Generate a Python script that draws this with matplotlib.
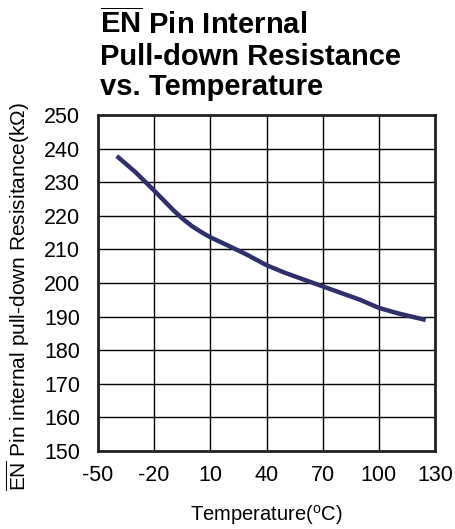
import matplotlib
matplotlib.use("Agg")
from matplotlib import pyplot as plt

# data
temps = [-40, -30, -20, -10, -5, 0, 5, 10, 20, 30, 40, 50, 60, 70, 80, 90, 100, 110, 125]
resist = [237.8, 233.0, 227.5, 221.8, 219.2, 217.0, 215.2, 213.6, 211.0, 208.3, 205.3, 203.0, 201.0, 199.0, 197.0, 195.0, 192.6, 191.0, 189.0]
xticks = [-50, -20, 10, 40, 70, 100, 130]
yticks = [150, 160, 170, 180, 190, 200, 210, 220, 230, 240, 250]

plt.rcParams['font.family'] = 'Liberation Sans'
plt.rcParams['mathtext.fontset'] = 'custom'
plt.rcParams['mathtext.rm'] = 'Liberation Sans'
plt.rcParams['mathtext.bf'] = 'Liberation Sans:bold'
plt.rcParams['axes.unicode_minus'] = False

fig = plt.figure(figsize=(4.56, 5.29), dpi=100)
ax = fig.add_axes([98/456, 1-451/529, 337/456, 336/529])

ax.plot(temps, resist, color='#2e2f6b', lw=3.2, solid_capstyle='butt')
ax.set_xlim(-50, 130)
ax.set_ylim(150, 250)
ax.set_xticks(xticks)
ax.set_yticks(yticks)
ax.grid(True, color='black', lw=1.0)
ax.tick_params(length=0, labelsize=15.5)
ax.tick_params(axis='y', pad=13)
ax.tick_params(axis='x', pad=10)
for s in ax.spines.values():
    s.set_linewidth(2)
    s.set_color('#222222')

ax.set_xlabel('Temperature($^{\\mathrm{o}}$C)', fontsize=14.5, labelpad=12)
ax.set_ylabel('$\\overline{\\mathrm{EN}}$ Pin internal pull-down Resisitance(k$\\Omega$)', fontsize=15)
ax.yaxis.set_label_coords(-0.196, 0.458)

fig.text(100/456, 1-9/529, '$\\overline{\\mathbf{EN}}$ Pin Internal\nPull-down Resistance\nvs. Temperature',
         fontsize=21, fontweight='bold', ha='left', va='top', linespacing=1.12)

fig.savefig('out.png', dpi=100)
